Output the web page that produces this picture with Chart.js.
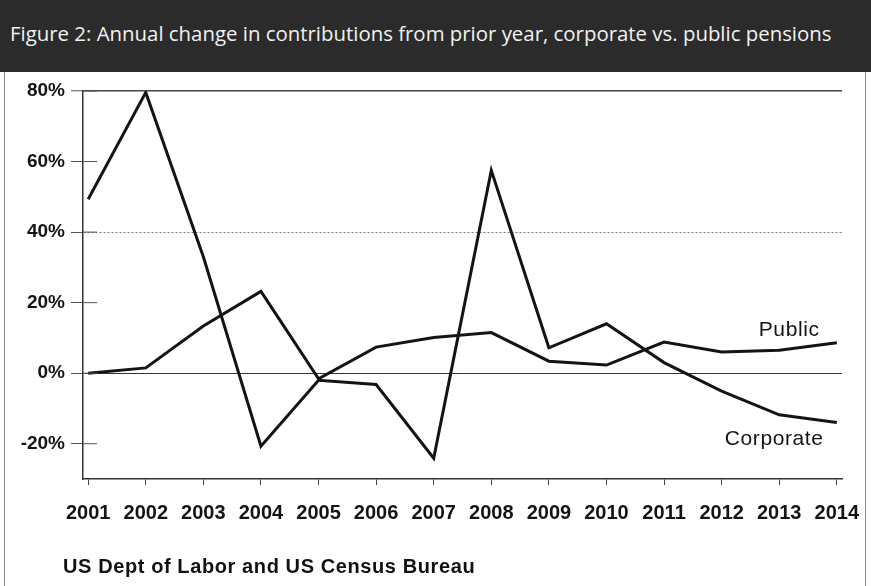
<!DOCTYPE html>
<html>
<head>
<meta charset="utf-8">
<script src="https://cdn.jsdelivr.net/npm/chart.js@4.4.0/dist/chart.umd.min.js"></script>
<style>
  body { margin: 0; background: #fff; width: 871px; height: 586px; overflow: hidden; position: relative; }
  #banner {
    position: absolute; left: 0; top: 0; width: 871px; height: 72px;
    background: #2b2b2b; color: #f2f2f2;
    font-family: "Open Sans", sans-serif; font-size: 20.4px; line-height: 66px;
    padding-left: 10px; box-sizing: border-box; white-space: nowrap;
  }
  #frame {
    position: absolute; left: 4px; top: 72px; width: 862px; height: 520px;
    border-left: 1px solid #8a8a8a; border-right: 1px solid #8a8a8a; box-sizing: border-box;
  }
  #chartBox { position: absolute; left: 0; top: 72px; width: 871px; height: 514px; }
  #source {
    position: absolute; left: 63px; top: 555px; letter-spacing: 0.6px;
    font-family: "Liberation Sans", Arial, sans-serif; font-weight: bold; font-size: 20px; color: #111;
  }
</style>
</head>
<body>
<div id="banner">Figure 2: Annual change in contributions from prior year, corporate vs. public pensions</div>
<div id="frame"></div>
<div id="chartBox"><canvas id="myChart" width="871" height="514"></canvas></div>
<div id="source">US Dept of Labor and US Census Bureau</div>
<script>
// values (percent change from prior year)
const years = [2001, 2002, 2003, 2004, 2005, 2006, 2007, 2008, 2009, 2010, 2011, 2012, 2013, 2014];
const corporate = [49.3, 79.6, 33, -20.7, -2, -3.2, -24.1, 57.5, 7.2, 14, 3, -5.1, -11.8, -14];
const pub = [0, 1.5, 13.4, 23.2, -1.6, 7.4, 10.1, 11.5, 3.4, 2.3, 8.8, 6, 6.5, 8.6];
const yTicks = [-20, 0, 20, 40, 60, 80];

const ink = '#141414';
const family = "'Liberation Sans', Arial, sans-serif";

function toPoints(values) {
  return values.map((v, i) => ({ x: years[i], y: v }));
}

// short marks on the y axis and the two series labels
const extras = {
  id: 'extras',
  afterDraw(chart) {
    const { ctx } = chart;
    const xs = chart.scales.x;
    const ys = chart.scales.y;
    ctx.save();
    ctx.strokeStyle = '#555';
    ctx.lineWidth = 1;
    yTicks.forEach((v) => {
      const y = ys.getPixelForValue(v);
      ctx.beginPath();
      ctx.moveTo(xs.left, y);
      ctx.lineTo(xs.left + 14, y);
      ctx.stroke();
    });
    ctx.fillStyle = ink;
    ctx.font = "21px " + family;
    ctx.letterSpacing = '0.6px';
    ctx.textAlign = 'right';
    ctx.textBaseline = 'middle';
    ctx.fillText('Public', xs.getPixelForValue(2013.7), ys.getPixelForValue(12.2));
    ctx.fillText('Corporate', xs.getPixelForValue(2013.77), ys.getPixelForValue(-18.8));
    ctx.restore();
  }
};

const ctx = document.getElementById('myChart').getContext('2d');
new Chart(ctx, {
  type: 'line',
  data: {
    datasets: [{
      label: 'Corporate',
      data: toPoints(corporate),
      borderColor: ink,
      borderWidth: 3,
      pointRadius: 0,
      tension: 0
    }, {
      label: 'Public',
      data: toPoints(pub),
      borderColor: ink,
      borderWidth: 3,
      pointRadius: 0,
      tension: 0
    }]
  },
  options: {
    responsive: false,
    animation: false,
    layout: { padding: { top: 19, right: 29, left: 0, bottom: 0 } },
    plugins: {
      legend: { display: false },
      tooltip: { enabled: false }
    },
    scales: {
      x: {
        type: 'linear',
        min: 2000.91,
        max: 2014.09,
        afterBuildTicks: (scale) => {
          scale.ticks = years.map((y) => ({ value: y }));
        },
        afterFit: (scale) => {
          scale.height = 107;
          scale.paddingLeft = 0;
          scale.paddingRight = 0;
        },
        grid: {
          drawOnChartArea: false,
          tickLength: 6,
          tickColor: '#444',
          tickWidth: 1
        },
        border: { display: true, color: '#333', width: 1.5 },
        ticks: {
          color: ink,
          font: { family: family, size: 20, weight: 'bold' },
          padding: 16,
          maxRotation: 0,
          autoSkip: false,
          callback: (value) => String(value)
        }
      },
      y: {
        min: -30,
        max: 80,
        afterBuildTicks: (scale) => {
          scale.ticks = yTicks.map((v) => ({ value: v }));
        },
        afterFit: (scale) => { scale.width = 83; },
        grid: {
          color: (c) => {
            const v = c.tick && c.tick.value;
            if (v === 80) return '#444';
            if (v === 40) return '#777';
            if (v === 0) return '#333';
            return 'rgba(0,0,0,0)';
          },
          lineWidth: (c) => (c.tick && c.tick.value === 80 ? 1.5 : 1),
          tickColor: '#555',
          tickLength: 12,
          tickWidth: 1
        },
        border: {
          display: true,
          color: '#333',
          width: 1.5,
          dash: (c) => (c.tick && c.tick.value === 40 ? [2, 2] : [])
        },
        ticks: {
          color: ink,
          font: { family: family, size: 19, weight: 'bold' },
          padding: 6,
          callback: (value) => value + '%'
        }
      }
    }
  },
  plugins: [extras]
});
</script>
</body>
</html>
